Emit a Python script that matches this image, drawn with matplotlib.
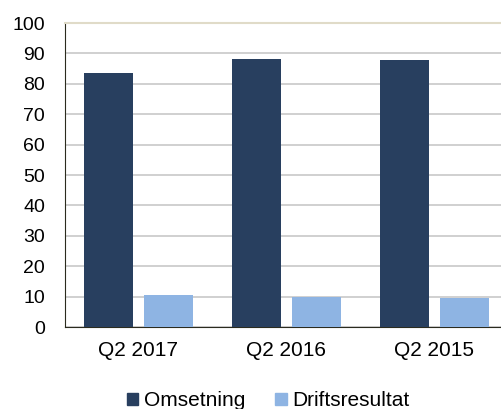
import matplotlib
matplotlib.use("Agg")
import matplotlib.pyplot as plt
from matplotlib.patches import Patch
import numpy as np

plt.rcParams["font.family"] = ["Liberation Sans", "DejaVu Sans"]

categories = ["Q2 2017", "Q2 2016", "Q2 2015"]
omsetning = [83.6, 88.2, 87.7]
driftsresultat = [10.5, 10.0, 9.6]
y_ticks = [0, 10, 20, 30, 40, 50, 60, 70, 80, 90, 100]

dark = "#283f5f"
light = "#8eb4e3"

fig = plt.figure(figsize=(5.01, 4.09), dpi=100)
ax = fig.add_axes([64.5 / 501, 82 / 409, 444 / 501, 304 / 409])

x = np.arange(len(categories))
width = 0.331
ax.bar(x - 0.206, omsetning, width, color=dark, zorder=3)
ax.bar(x + 0.206, driftsresultat, width, color=light, zorder=3)

ax.set_xlim(-0.5, 2.5)
ax.set_ylim(0, 100)
ax.set_yticks(y_ticks)
ax.set_xticks(x)
ax.set_xticklabels(categories, fontsize=15)
ax.tick_params(axis="y", labelsize=14, length=0, pad=14)
ax.tick_params(axis="x", length=0, pad=10)

ax.grid(axis="y", color="#c8c8c8", linewidth=1.2, zorder=0)
ax.spines["top"].set_color("#e0dbc8")
ax.spines["top"].set_linewidth(1.5)
ax.spines["left"].set_color("#2b2b1e")
ax.spines["bottom"].set_color("#2b2b1e")
ax.spines["right"].set_visible(False)

handles = [Patch(color=dark, label="Omsetning"), Patch(color=light, label="Driftsresultat")]
fig.legend(
    handles=handles,
    loc="center",
    bbox_to_anchor=(268 / 501, 1 - 401 / 409),
    ncol=2,
    frameon=False,
    fontsize=15,
    handlelength=0.55,
    handleheight=0.55,
    handletextpad=0.25,
    columnspacing=1.45,
)

fig.savefig("out.png", dpi=100)
